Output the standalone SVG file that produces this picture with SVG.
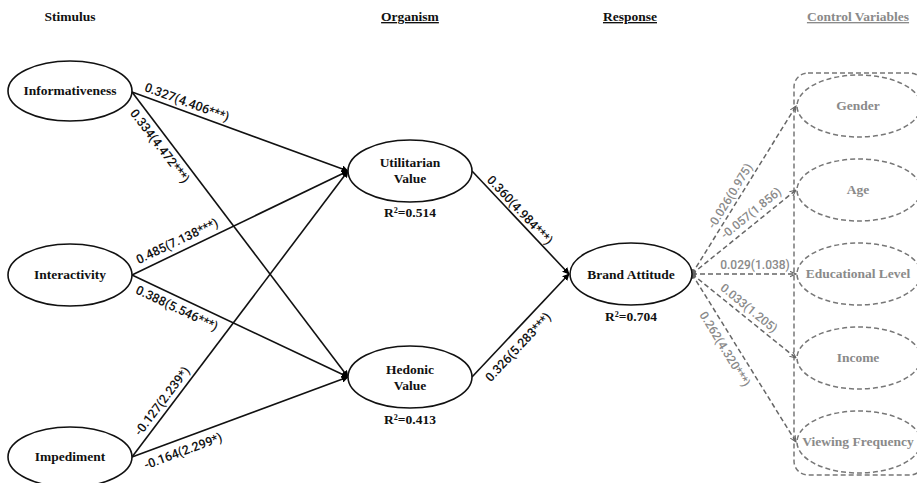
<svg xmlns="http://www.w3.org/2000/svg" width="917" height="483" viewBox="0 0 917 483">
<defs>
<marker id="ah" viewBox="0 0 10 10" refX="9" refY="5" markerWidth="7" markerHeight="7" orient="auto" markerUnits="userSpaceOnUse">
<path d="M0,0 L10,5 L0,10 z" fill="#000"/>
</marker>
<marker id="ag" viewBox="0 0 10 10" refX="9" refY="5" markerWidth="7" markerHeight="7" orient="auto" markerUnits="userSpaceOnUse">
<path d="M0,1 L9,5 L0,9" fill="none" stroke="#666" stroke-width="1.5"/>
</marker>
<style>
.hd{font-family:"Liberation Serif","DejaVu Serif",serif;font-weight:bold;font-size:13.5px;text-anchor:middle;fill:#111}
.nl{font-family:"Liberation Serif","DejaVu Serif",serif;font-weight:bold;font-size:13.5px;text-anchor:middle;fill:#111}
.cl{font-family:"Liberation Serif","DejaVu Serif",serif;font-weight:bold;font-size:13.5px;text-anchor:middle;fill:#8a8a8a}
.el{fill:#fff;stroke:#111;stroke-width:1.6}
.ce{fill:#fff;stroke:#777;stroke-width:1.5;stroke-dasharray:5 3}
.ln{stroke:#111;stroke-width:1.6;fill:none;marker-end:url(#ah)}
.dl{stroke:#666;stroke-width:1.5;fill:none;stroke-dasharray:5 3;marker-end:url(#ag)}
.lb{font-family:Roboto,"Liberation Sans",sans-serif;font-size:12.5px;font-weight:500;text-anchor:middle;fill:#111}
.gl{font-family:Roboto,"Liberation Sans",sans-serif;font-size:12px;font-weight:500;text-anchor:middle;fill:#8a8a8a}
</style>
</defs>
<rect width="917" height="483" fill="#fff"/>

<g id="headers">
<text class="hd" x="70" y="21">Stimulus</text>
<text class="hd" x="410" y="21" text-decoration="underline">Organism</text>
<text class="hd" x="630" y="21" text-decoration="underline">Response</text>
<text class="hd" x="858" y="21" style="fill:#8a8a8a" text-decoration="underline">Control Variables</text>
</g>

<g id="control-box">
<rect x="794" y="73" width="130" height="402" rx="14" fill="none" stroke="#777" stroke-width="1.5" stroke-dasharray="5 3"/>
</g>

<g id="connectors">
<line class="ln" x1="132" y1="92" x2="348" y2="171"/>
<line class="ln" x1="132" y1="92" x2="348" y2="377"/>
<line class="ln" x1="132" y1="275" x2="348" y2="171"/>
<line class="ln" x1="132" y1="275" x2="348" y2="377"/>
<line class="ln" x1="132" y1="457" x2="348" y2="171"/>
<line class="ln" x1="132" y1="457" x2="348" y2="377"/>
<line class="ln" x1="472" y1="171" x2="569" y2="274"/>
<line class="ln" x1="472" y1="377" x2="569" y2="274"/>
<ellipse cx="692" cy="274" rx="4" ry="5" fill="#555"/>
<line class="dl" x1="692" y1="274" x2="796" y2="106"/>
<line class="dl" x1="692" y1="274" x2="796" y2="190"/>
<line class="dl" x1="692" y1="274" x2="796" y2="274"/>
<line class="dl" x1="692" y1="274" x2="796" y2="358"/>
<line class="dl" x1="692" y1="274" x2="796" y2="442"/>

<text class="lb" transform="translate(187,102) rotate(20.1)" dy="0.35em">0.327(4.406***)</text>
<text class="lb" transform="translate(160,146) rotate(52.7)" dy="0.35em">0.334(4.472***)</text>
<text class="lb" transform="translate(177,241) rotate(-25.5)" dy="0.35em">0.485(7.138***)</text>
<text class="lb" transform="translate(177,308) rotate(25.3)" dy="0.35em">0.388(5.546***)</text>
<text class="lb" transform="translate(162,401) rotate(-52.8)" dy="0.35em">-0.127(2.239*)</text>
<text class="lb" transform="translate(183,451) rotate(-20.3)" dy="0.35em">-0.164(2.299*)</text>
<text class="lb" transform="translate(520,210) rotate(46.7)" dy="0.35em">0.360(4.984***)</text>
<text class="lb" transform="translate(518,347) rotate(-46.7)" dy="0.35em">0.326(5.283***)</text>

<text class="gl" transform="translate(730,196) rotate(-58.5)" dy="0.35em">-0.026(0.975)</text>
<text class="gl" transform="translate(751,213) rotate(-39.2)" dy="0.35em">-0.057(1.856)</text>
<text class="gl" transform="translate(755,265)" dy="0.35em">0.029(1.038)</text>
<text class="gl" transform="translate(749,308) rotate(39.2)" dy="0.35em">0.033(1.205)</text>
<text class="gl" transform="translate(725,349) rotate(58.5)" dy="0.35em">0.262(4.320***)</text>
</g>

<g id="informativeness">
<ellipse class="el" cx="70" cy="91" rx="62" ry="30"/>
<text class="nl" x="70" y="95">Informativeness</text>
</g>
<g id="interactivity">
<ellipse class="el" cx="70" cy="275" rx="62" ry="31"/>
<text class="nl" x="70" y="279">Interactivity</text>
</g>
<g id="impediment">
<ellipse class="el" cx="70" cy="457" rx="62" ry="30"/>
<text class="nl" x="70" y="461">Impediment</text>
</g>
<g id="utilitarian">
<ellipse class="el" cx="410" cy="171" rx="62" ry="31"/>
<text class="nl" x="410" y="167">Utilitarian</text>
<text class="nl" x="410" y="183">Value</text>
<text class="nl" x="410" y="217">R²=0.514</text>
</g>
<g id="hedonic">
<ellipse class="el" cx="410" cy="377" rx="62" ry="31"/>
<text class="nl" x="410" y="374">Hedonic</text>
<text class="nl" x="410" y="390">Value</text>
<text class="nl" x="410" y="424">R²=0.413</text>
</g>
<g id="brand-attitude">
<ellipse class="el" cx="631" cy="274" rx="61" ry="31"/>
<text class="nl" x="631" y="279">Brand Attitude</text>
<text class="nl" x="631" y="321">R²=0.704</text>
</g>
<g id="gender">
<ellipse class="ce" cx="859" cy="106" rx="62" ry="31"/>
<text class="cl" x="858" y="110">Gender</text>
</g>
<g id="age">
<ellipse class="ce" cx="859" cy="190" rx="62" ry="31"/>
<text class="cl" x="858" y="194">Age</text>
</g>
<g id="educational-level">
<ellipse class="ce" cx="859" cy="274" rx="62" ry="31"/>
<text class="cl" x="858" y="278">Educational Level</text>
</g>
<g id="income">
<ellipse class="ce" cx="859" cy="358" rx="62" ry="31"/>
<text class="cl" x="858" y="362">Income</text>
</g>
<g id="viewing-frequency">
<ellipse class="ce" cx="859" cy="442" rx="62" ry="31"/>
<text class="cl" x="858" y="446">Viewing Frequency</text>
</g>
</svg>
